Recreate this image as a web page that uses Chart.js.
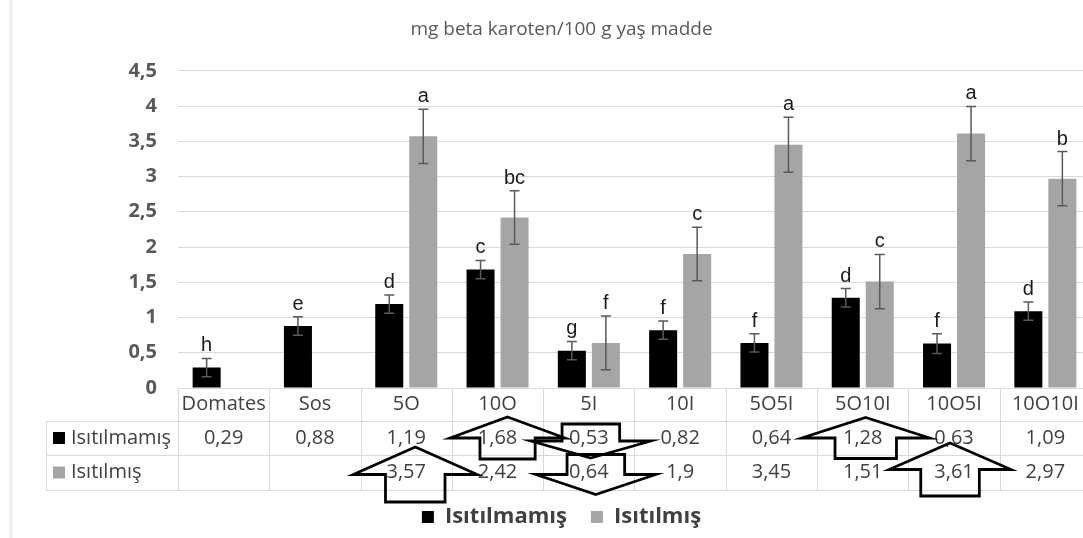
<!DOCTYPE html>
<html>
<head>
<meta charset="utf-8">
<script src="https://cdn.jsdelivr.net/npm/chart.js@4/dist/chart.umd.min.js"></script>
<style>
  html, body { margin: 0; padding: 0; background: #fff; overflow: hidden; }
  #wrap { width: 1083px; height: 538px; overflow: hidden; }
</style>
</head>
<body>
<div id="wrap"><canvas id="chart" width="1091" height="538"></canvas></div>
<script>
const categories = ["Domates", "Sos", "5O", "10O", "5I", "10I", "5O5I", "5O10I", "10O5I", "10O10I"];
const seriesNames = ["Isıtılmamış", "Isıtılmış"];
const unheated = [0.29, 0.88, 1.19, 1.68, 0.53, 0.82, 0.64, 1.28, 0.63, 1.09];
const heated = [null, null, 3.57, 2.42, 0.64, 1.9, 3.45, 1.51, 3.61, 2.97];
const unheatedErr = [0.13, 0.13, 0.13, 0.13, 0.13, 0.13, 0.13, 0.13, 0.14, 0.13];
const heatedErr = [null, null, 0.385, 0.38, 0.38, 0.38, 0.39, 0.385, 0.385, 0.385];
const unheatedLetters = ["h", "e", "d", "c", "g", "f", "f", "d", "f", "d"];
const heatedLetters = ["", "", "a", "bc", "f", "c", "a", "c", "a", "b"];
const yMax = 4.5;
const yStep = 0.5;

// outlined block arrows drawn over the table (cell = category, row 1/2)
const arrows = [
  { cat: "5O", row: 2, dir: "up", dx: 9, dy: 2, w: 124, h: 55 },
  { cat: "10O", row: 1, dir: "up", dx: 10, dy: 0, w: 115, h: 42 },
  { cat: "5I", row: 1, dir: "down", dx: 2, dy: 3, w: 120, h: 34 },
  { cat: "5I", row: 2, dir: "down", dx: 7, dy: 2, w: 120, h: 40 },
  { cat: "5O10I", row: 1, dir: "up", dx: 3, dy: 0, w: 128, h: 41 },
  { cat: "10O5I", row: 2, dir: "up", dx: -4, dy: -3, w: 122, h: 53 },
];

const colors = ["#000000", "#a5a5a5"];
const fmt = (v) => String(v).replace(".", ",");
const textFont = "'Open Sans', sans-serif";

function drawArrow(ctx, cx, cy, w, h, dir) {
  const s = dir === "up" ? 1 : -1;
  const hw = w / 2;
  const sw = w * 0.24;
  const tip = cy - s * h / 2;
  const base = cy;
  const end = cy + s * h / 2;
  ctx.beginPath();
  ctx.moveTo(cx, tip);
  ctx.lineTo(cx + hw, base);
  ctx.lineTo(cx + sw, base);
  ctx.lineTo(cx + sw, end);
  ctx.lineTo(cx - sw, end);
  ctx.lineTo(cx - sw, base);
  ctx.lineTo(cx - hw, base);
  ctx.closePath();
  ctx.stroke();
}

const extras = {
  id: "extras",
  beforeDraw(chart) {
    const ctx = chart.ctx;
    ctx.save();
    ctx.fillStyle = "#f2f2f2";
    ctx.fillRect(9, 0, 4, chart.height);
    ctx.restore();
  },
  afterDatasetsDraw(chart) {
    const ctx = chart.ctx;
    const y = chart.scales.y;
    const errs = [unheatedErr, heatedErr];
    const letters = [unheatedLetters, heatedLetters];
    ctx.save();
    chart.data.datasets.forEach((ds, di) => {
      const meta = chart.getDatasetMeta(di);
      meta.data.forEach((bar, i) => {
        const v = ds.data[i];
        if (v == null) return;
        const e = errs[di][i];
        const top = y.getPixelForValue(v + e);
        const bot = y.getPixelForValue(v - e);
        ctx.strokeStyle = "#595959";
        ctx.lineWidth = 1.5;
        ctx.beginPath();
        ctx.moveTo(bar.x, top);
        ctx.lineTo(bar.x, bot);
        ctx.moveTo(bar.x - 5, top);
        ctx.lineTo(bar.x + 5, top);
        ctx.moveTo(bar.x - 5, bot);
        ctx.lineTo(bar.x + 5, bot);
        ctx.stroke();
        const lab = letters[di][i];
        if (lab) {
          ctx.fillStyle = "#1a1a1a";
          ctx.font = "20px 'Liberation Sans', Arial, sans-serif";
          ctx.textAlign = "center";
          ctx.textBaseline = "alphabetic";
          ctx.fillText(lab, bar.x, top - 7);
        }
      });
    });
    ctx.restore();
  },
  afterDraw(chart) {
    const ctx = chart.ctx;
    const x = chart.scales.x;
    const area = chart.chartArea;
    const step = x.getPixelForValue(1) - x.getPixelForValue(0);
    const rows = [area.bottom, area.bottom + 33, area.bottom + 67, area.bottom + 102];
    const labelLeft = 46;
    ctx.save();
    ctx.strokeStyle = "#d9d9d9";
    ctx.lineWidth = 1;
    ctx.beginPath();
    // horizontal rules
    ctx.moveTo(area.left, rows[0] + 0.5);
    ctx.lineTo(area.right, rows[0] + 0.5);
    for (let r = 1; r < rows.length; r++) {
      ctx.moveTo(labelLeft, Math.round(rows[r]) + 0.5);
      ctx.lineTo(area.right, Math.round(rows[r]) + 0.5);
    }
    // vertical rules
    ctx.moveTo(labelLeft + 0.5, rows[1]);
    ctx.lineTo(labelLeft + 0.5, rows[3]);
    for (let i = 0; i <= categories.length; i++) {
      const px = Math.round(area.left + i * step) + 0.5;
      ctx.moveTo(px, rows[0]);
      ctx.lineTo(px, rows[3]);
    }
    ctx.stroke();

    ctx.fillStyle = "#404040";
    ctx.font = "20px " + textFont;
    ctx.textAlign = "center";
    ctx.textBaseline = "middle";
    const mid = (r) => (rows[r] + rows[r + 1]) / 2;
    categories.forEach((c, i) => {
      const cx = x.getPixelForValue(i);
      ctx.fillText(c, cx, mid(0));
      ctx.fillText(fmt(unheated[i]), cx, mid(1));
      if (heated[i] != null) ctx.fillText(fmt(heated[i]), cx, mid(2));
    });
    ctx.textAlign = "left";
    seriesNames.forEach((name, k) => {
      const cy = mid(k + 1);
      ctx.fillStyle = colors[k];
      ctx.fillRect(53, cy - 6, 12, 12);
      ctx.fillStyle = "#404040";
      ctx.fillText(name, 71, cy);
    });

    ctx.strokeStyle = "#000";
    ctx.lineWidth = 2.8;
    ctx.lineJoin = "miter";
    arrows.forEach((a) => {
      const cx = x.getPixelForValue(categories.indexOf(a.cat)) + a.dx;
      const cy = mid(a.row) + a.dy;
      drawArrow(ctx, cx, cy, a.w, a.h, a.dir);
    });
    ctx.restore();
  },
};

new Chart(document.getElementById("chart"), {
  type: "bar",
  data: {
    labels: categories,
    datasets: [
      {
        label: seriesNames[0],
        data: unheated,
        backgroundColor: colors[0],
        barPercentage: 0.824,
        categoryPercentage: 0.745,
      },
      {
        label: seriesNames[1],
        data: heated,
        backgroundColor: colors[1],
        barPercentage: 0.824,
        categoryPercentage: 0.745,
      },
    ],
  },
  options: {
    responsive: false,
    animation: false,
    devicePixelRatio: 1,
    layout: { padding: { left: 32, right: 0, top: 0, bottom: 0 } },
    plugins: {
      title: {
        display: true,
        text: "mg beta karoten/100 g yaş madde",
        color: "#595959",
        font: { family: textFont, size: 19, weight: "normal" },
        padding: { top: 18, bottom: 30 },
      },
      legend: {
        position: "bottom",
        labels: {
          color: "#404040",
          font: { family: textFont, size: 22, weight: "bold" },
          boxWidth: 12,
          boxHeight: 12,
          padding: 24,
        },
      },
      tooltip: { enabled: false },
    },
    scales: {
      x: {
        ticks: { display: false },
        grid: { display: false },
        border: { display: false },
        afterFit: (s) => { s.height = 94; },
      },
      y: {
        min: 0,
        max: yMax,
        ticks: {
          stepSize: yStep,
          padding: 21,
          color: "#595959",
          font: { family: textFont, size: 20, weight: "bold" },
          callback: (v) => fmt(v),
        },
        grid: { color: "#d9d9d9", drawTicks: false },
        border: { display: false },
        afterFit: (s) => { s.width = 146; },
      },
    },
  },
  plugins: [extras],
});
</script>
</body>
</html>
